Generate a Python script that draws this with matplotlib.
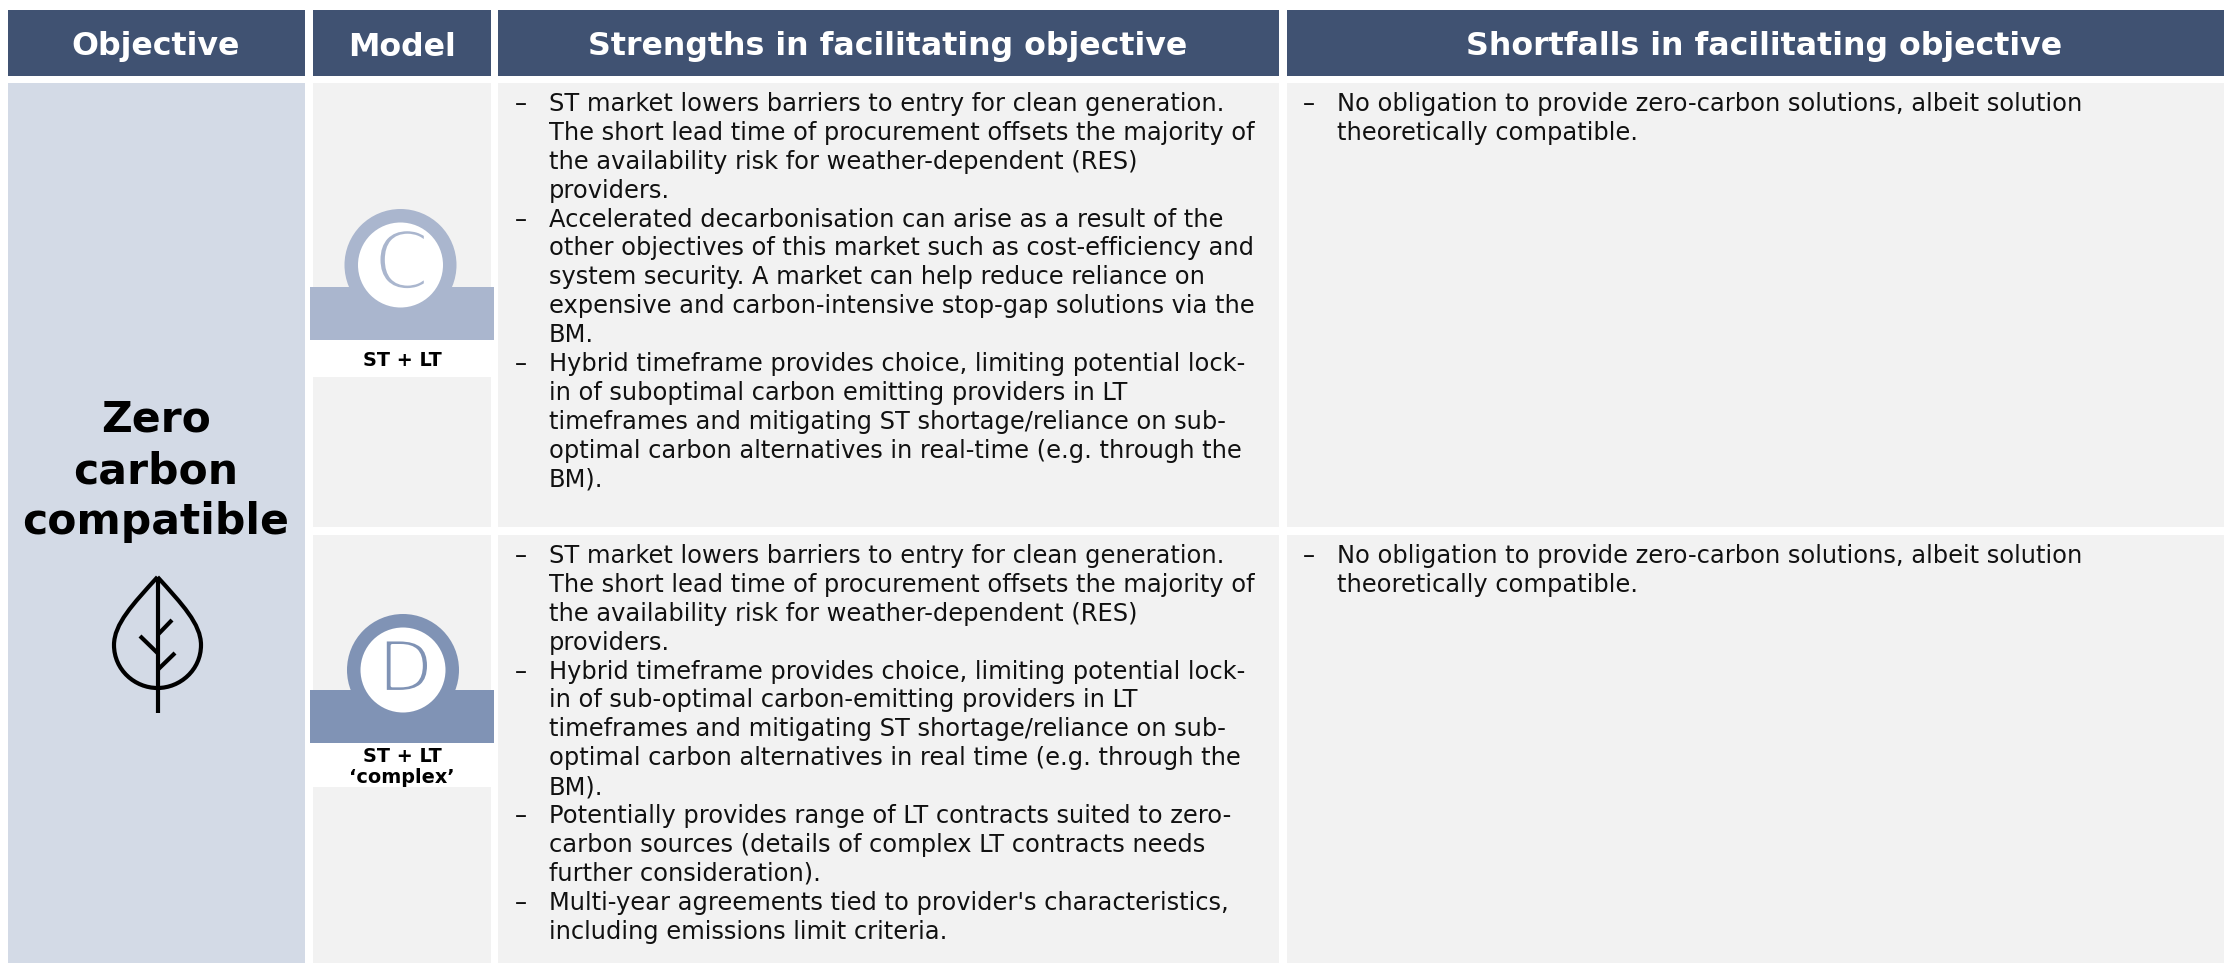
import matplotlib
matplotlib.use("Agg")
import matplotlib.pyplot as plt
from matplotlib.patches import Rectangle, Circle, PathPatch
from matplotlib.path import Path
import matplotlib.patheffects as pe

headers = ["Objective", "Model", "Strengths in facilitating objective", "Shortfalls in facilitating objective"]
objective = ["Zero", "carbon", "compatible"]
model_letters = ["C", "D"]
model_labels = [["ST + LT"], ["ST + LT", "‘complex’"]]
shortfalls = ["No obligation to provide zero-carbon solutions, albeit solution",
              "theoretically compatible."]
strengths_c = [
    ("–", "ST market lowers barriers to entry for clean generation."),
    ("", "The short lead time of procurement offsets the majority of"),
    ("", "the availability risk for weather-dependent (RES)"),
    ("", "providers."),
    ("–", "Accelerated decarbonisation can arise as a result of the"),
    ("", "other objectives of this market such as cost-efficiency and"),
    ("", "system security. A market can help reduce reliance on"),
    ("", "expensive and carbon-intensive stop-gap solutions via the"),
    ("", "BM."),
    ("–", "Hybrid timeframe provides choice, limiting potential lock-"),
    ("", "in of suboptimal carbon emitting providers in LT"),
    ("", "timeframes and mitigating ST shortage/reliance on sub-"),
    ("", "optimal carbon alternatives in real-time (e.g. through the"),
    ("", "BM)."),
]
strengths_d = [
    ("–", "ST market lowers barriers to entry for clean generation."),
    ("", "The short lead time of procurement offsets the majority of"),
    ("", "the availability risk for weather-dependent (RES)"),
    ("", "providers."),
    ("–", "Hybrid timeframe provides choice, limiting potential lock-"),
    ("", "in of sub-optimal carbon-emitting providers in LT"),
    ("", "timeframes and mitigating ST shortage/reliance on sub-"),
    ("", "optimal carbon alternatives in real time (e.g. through the"),
    ("", "BM)."),
    ("–", "Potentially provides range of LT contracts suited to zero-"),
    ("", "carbon sources (details of complex LT contracts needs"),
    ("", "further consideration)."),
    ("–", "Multi-year agreements tied to provider's characteristics,"),
    ("", "including emissions limit criteria."),
]

NAVY, PALE, GREY = "#405272", "#D3DAE6", "#F2F2F2"
C_COL, D_COL = "#AAB6CE", "#8093B5"
plt.rcParams["font.family"] = ["DejaVu Sans"]

fig = plt.figure(figsize=(22.24, 9.63), dpi=100)
ax = fig.add_axes([0, 0, 1, 1])
ax.set_xlim(0, 2224); ax.set_ylim(963, 0); ax.axis("off")

def box(x0, y0, x1, y1, color, z=1):
    ax.add_patch(Rectangle((x0, y0), x1 - x0, y1 - y0, fc=color, ec="none", zorder=z))

cols = [(8, 305), (313, 491), (498, 1279), (1287, 2224)]
header_x = [156, 402, 888, 1764]
for (a, b), h, hx in zip(cols, headers, header_x):
    box(a, 10, b, 76, NAVY)
    ax.text(hx, 55.5, h, color="white", ha="center", va="baseline", fontsize=22.8, fontweight="bold")

rows = [(83, 527), (535, 963)]
box(8, 83, 305, 963, PALE)
for y0, y1 in rows:
    for a, b in cols[1:]:
        box(a, y0, b, y1, GREY)

for y, t in zip((432, 483, 534), objective):
    ax.text(156, y, t, fontsize=30.6, fontweight="bold", ha="center", va="baseline", color="black")

# Leaf icon
lw = 3.0
leaf = Path([(157.5, 577), (133, 604), (114, 624), (114, 645), (114, 670), (135, 688), (157.5, 688),
             (180, 688), (201, 670), (201, 645), (201, 624), (182, 604), (157.5, 577)],
            [Path.MOVETO] + [Path.CURVE4] * 12)
ax.add_patch(PathPatch(leaf, fc="none", ec="black", lw=lw, zorder=3))
for seg in [((157.5, 577), (157.5, 713)), ((157.5, 635), (172, 620)),
            ((157.5, 653), (140, 636)), ((157.5, 670), (175, 653))]:
    ax.plot(*zip(*seg), color="black", lw=lw, zorder=3, solid_capstyle="butt")

# Model badges
badges = [(400.5, 265, 287, 340, 377, C_COL, 402, 267, 58, 2.9, [366.5]),
          (403, 670, 690, 743, 787, D_COL, 405.5, 672, 51, 2.3, [762, 783])]
for (cx, cy, b0, b1, w1, col, lx, ly, fs, sw, ys), letter, lab in zip(badges, model_letters, model_labels):
    box(313, b1, 491, w1, "white", 2)
    ax.add_patch(Circle((cx, cy), 56, fc=col, ec="none", zorder=3))
    box(310, b0, 494, b1, col, 4)
    ax.add_patch(Circle((cx, cy), 42.5, fc="white", ec="none", zorder=5))
    ax.text(lx, ly, letter, color=col, fontsize=fs, ha="center", va="center", zorder=6,
            path_effects=[pe.Normal(), pe.Stroke(linewidth=sw, foreground="white")])
    for y, t in zip(ys, lab):
        ax.text(402, y, t, fontsize=13.9, fontweight="bold", ha="center", va="baseline", zorder=6)

# Text columns
def block(lines, y0, xd, xt):
    for i, (d, t) in enumerate(lines):
        y = y0 + i * 28.9
        if d:
            ax.text(xd, y, d, fontsize=17.4, ha="left", va="baseline", color="#111111")
        ax.text(xt, y, t, fontsize=17.4, ha="left", va="baseline", color="#111111")

block(strengths_c, 111, 515, 549)
block(strengths_d, 563, 515, 549)
for y0 in (111, 563):
    block([("–", shortfalls[0]), ("", shortfalls[1])], y0, 1303, 1337)

fig.savefig("out.png", dpi=100)
